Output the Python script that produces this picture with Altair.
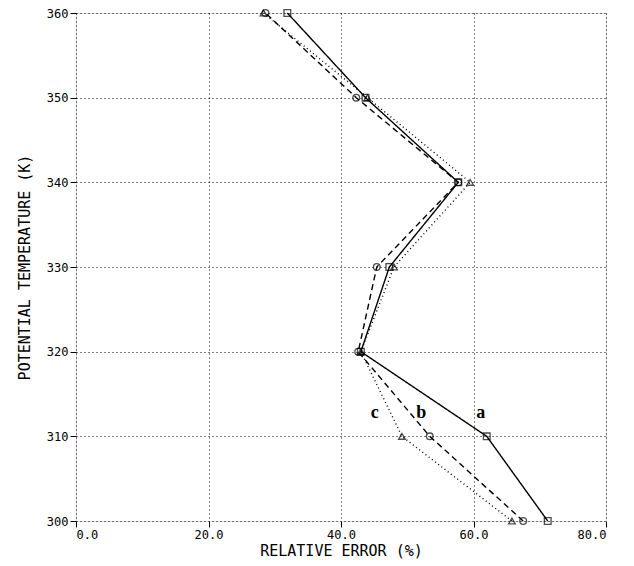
import altair as alt
import pandas as pd

temps = [300, 310, 320, 330, 340, 350, 360]
err_a = [71.2, 62.0, 43.0, 47.3, 57.7, 43.7, 31.9]
err_b = [67.5, 53.4, 42.6, 45.4, 57.7, 42.3, 28.6]
err_c = [65.8, 49.2, 43.0, 48.0, 59.5, 44.0, 28.3]
series_names = ["a", "b", "c"]
label_x = [61.1, 52.1, 45.1]
label_y = [312.8, 312.8, 312.8]

rows = []
for name, vals in zip(series_names, [err_a, err_b, err_c]):
    for t, v in zip(temps, vals):
        rows.append({"series": name, "temp": t, "err": v})
df = pd.DataFrame(rows)
lab = pd.DataFrame({"series": series_names, "x": label_x, "y": label_y})

xscale = alt.Scale(domain=[0, 80], nice=False, zero=False)
yscale = alt.Scale(domain=[300, 360], nice=False, zero=False)
dash_scale = alt.Scale(domain=series_names, range=[[1, 0], [6, 4], [1, 3]])
shape_scale = alt.Scale(domain=series_names, range=["square", "circle", "triangle-up"])

font = "DejaVu Sans Mono"

xaxis = alt.Axis(values=[0, 20, 40, 60, 80], format=".1f", title="RELATIVE ERROR (%)",
                 grid=True, gridColor="black", gridDash=[1, 3], gridWidth=1,
                 domain=False, tickColor="black", tickSize=6, labelFont=font,
                 labelFontSize=12, labelColor="black", titleFont=font, titleFontSize=15,
                 titleFontWeight="normal", titleColor="black", titlePadding=3)
yaxis = alt.Axis(values=[300, 310, 320, 330, 340, 350, 360], format="d",
                 title="POTENTIAL TEMPERATURE (K)",
                 grid=True, gridColor="black", gridDash=[1, 3], gridWidth=1,
                 domain=False, tickColor="black", tickSize=6, labelFont=font,
                 labelFontSize=12, labelColor="black", titleFont=font, titleFontSize=15,
                 titleFontWeight="normal", titleColor="black", titlePadding=14)

base = alt.Chart(df)

lines = base.mark_line(color="black", strokeWidth=1.4).encode(
    x=alt.X("err:Q", scale=xscale, axis=xaxis),
    y=alt.Y("temp:Q", scale=yscale, axis=yaxis),
    strokeDash=alt.StrokeDash("series:N", scale=dash_scale, legend=None),
    detail="series:N",
    order=alt.Order("temp:Q"),
)

points = base.mark_point(color="black", filled=False, size=45, strokeWidth=1.3).encode(
    x=alt.X("err:Q", scale=xscale),
    y=alt.Y("temp:Q", scale=yscale),
    shape=alt.Shape("series:N", scale=shape_scale, legend=None),
)

labels = alt.Chart(lab).mark_text(font="Liberation Serif", fontSize=18, fontWeight="bold",
                                  color="black").encode(
    x=alt.X("x:Q", scale=xscale),
    y=alt.Y("y:Q", scale=yscale),
    text="series:N",
)

chart = alt.layer(lines, points, labels).properties(
    width=530, height=508,
    autosize=alt.AutoSizeParams(type="none"),
    padding={"left": 68, "top": 5, "right": 20, "bottom": 40},
).configure_view(stroke="black", strokeWidth=1.5).configure(background="white")

chart.save("out.html", embed_options={"renderer": "svg", "actions": False})
